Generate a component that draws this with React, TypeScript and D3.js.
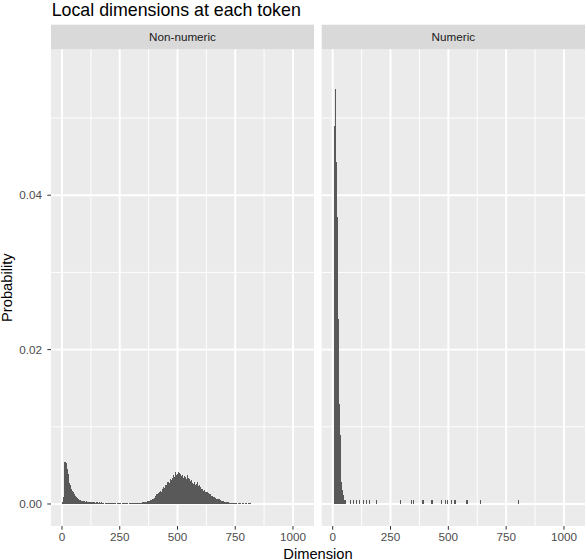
import { useEffect, useRef } from "react";
import * as d3 from "d3";

// histogram bin width (dimension units)
const binWidth = 4.33;

const panels = ["Non-numeric", "Numeric"];
const xTicks = [0, 250, 500, 750, 1000];
const xMinor = [125, 375, 625, 875];
const yTicks = [0, 0.02, 0.04];
const yMinor = [0.01, 0.03, 0.05];

// density per bin, bins start at 0 and step by binWidth
const nonNumericDensity = [
  0.0002, 0.0009, 0.0054, 0.0055, 0.0053, 0.0045, 0.0039, 0.0027, 0.0024, 0.0019,
  0.0017, 0.0015, 0.0013, 0.0011, 0.0009, 0.0008, 0.00065, 0.0005, 0.0005, 0.00045,
  0.0004, 0.00035, 0.00035, 0.0003, 0.00035, 0.0003, 0.00022, 0.00022, 0.0002, 0.00022,
  0.0002, 0.00022, 0.0002, 0.0001, 0.0002, 0.0002, 0.0001, 0.0002, 0.0001, 0.0002,
  0.0001, 0.0001, 0, 0.0001, 0.0001, 0.0001, 0.0001, 0.0001, 0.0001, 0.0001,
  0.0001, 0.0001, 0.0001, 0.0001, 0, 0.0001, 0.0001, 0.0001, 0.0001, 0,
  0.0001, 0.0001, 0.0001, 0.0001, 0.0001, 0.0001, 0, 0.0001, 0.0001, 0.0001,
  0.0001, 0.0001, 0.0001, 0.0001, 0.0001, 0.0001, 0.00013, 0.00013, 0.00013, 0.00015,
  0.0002, 0.0002, 0.00025, 0.0003, 0.0003, 0.00035, 0.0004, 0.0004, 0.0005, 0.0005,
  0.0006, 0.00065, 0.0008, 0.001, 0.0013, 0.0013, 0.0014, 0.0016, 0.0017, 0.0016,
  0.0019, 0.0022, 0.0021, 0.0025, 0.0024, 0.0028, 0.0029, 0.0027, 0.0032, 0.0031,
  0.0034, 0.0037, 0.0035, 0.0041, 0.0038, 0.0039, 0.0041, 0.004, 0.0039, 0.0036,
  0.0037, 0.0034, 0.0036, 0.0035, 0.0033, 0.0037, 0.0034, 0.0032, 0.003, 0.0031,
  0.0027, 0.0026, 0.0029, 0.0025, 0.0026, 0.0028, 0.0023, 0.0024, 0.0022, 0.002,
  0.0019, 0.0017, 0.0018, 0.0016, 0.0015, 0.0015, 0.0014, 0.0013, 0.0013, 0.0011,
  0.001, 0.00095, 0.0009, 0.0008, 0.0007, 0.00065, 0.0006, 0.0006, 0.0005, 0.00045,
  0.0004, 0.00035, 0.0003, 0.0003, 0.00025, 0.0002, 0.0002, 0.00015, 0.00013, 0.00013,
  0.0001, 0.0001, 0.0001, 0.0001, 0.00008, 0, 0.0001, 0.00008, 0.00008, 0,
  0.0001, 0.00008, 0, 0.00008, 0.00008, 0, 0.00008, 0.00008, 0.00008, 0,
];

const numericDensity = [
  0, 0.0489, 0.0537, 0.0443, 0.0372, 0.024, 0.013, 0.009, 0.0029, 0.0018, 0.0012, 0.0005,
];

// isolated numeric tokens far out in the tail (dimension values)
const numericTailDims = [
  56, 74, 87, 100, 113, 134, 147, 160, 188, 292, 341, 348, 388, 394, 427, 431,
  470, 485, 495, 511, 524, 532, 576, 582, 640, 804,
];
const numericTailDensity = 0.0005;

type Bin = { x0: number; v: number };

const App = () => {
  const container = useRef<HTMLDivElement>(null);

  useEffect(() => {
    const el = container.current;
    if (!el) return;
    el.innerHTML = "";

    const width = 586, height = 560;
    const top = 49.3, bottom = 526;
    const panelX = [[51, 314], [321.7, 585]];
    const font = "'Liberation Sans', Arial, Helvetica, sans-serif";

    const svg = d3.select(el)
      .append("svg")
      .attr("width", width)
      .attr("height", height)
      .style("display", "block")
      .style("font-family", font);

    const y = d3.scaleLinear().domain([-0.00285, 0.0589]).range([bottom, top]);

    const nonNumericBins: Bin[] = nonNumericDensity.map((v, i) => ({ x0: i * binWidth, v }));
    const numericBins: Bin[] = numericDensity.map((v, i) => ({ x0: i * binWidth, v }))
      .concat(numericTailDims.map((d) => ({ x0: Math.floor(d / binWidth) * binWidth, v: numericTailDensity })));
    const binsByPanel = [nonNumericBins, numericBins];

    panels.forEach((name, i) => {
      const [x0, x1] = panelX[i];
      const x = d3.scaleLinear().domain([-47.6, 1091]).range([x0, x1]);
      const g = svg.append("g");

      g.append("rect")
        .attr("x", x0).attr("y", top)
        .attr("width", x1 - x0).attr("height", bottom - top)
        .attr("fill", "#EBEBEB");

      // strip
      g.append("rect")
        .attr("x", x0).attr("y", 24.7)
        .attr("width", x1 - x0).attr("height", top - 24.7)
        .attr("fill", "#D9D9D9");
      g.append("text")
        .attr("x", (x0 + x1) / 2).attr("y", 41)
        .attr("text-anchor", "middle")
        .style("font-size", "11.7px")
        .attr("fill", "#1A1A1A")
        .text(name);

      // grid
      g.selectAll(".xminor").data(xMinor).join("line")
        .attr("x1", (d) => x(d)).attr("x2", (d) => x(d))
        .attr("y1", top).attr("y2", bottom)
        .attr("stroke", "#fff").attr("stroke-width", 0.95);
      g.selectAll(".yminor").data(yMinor).join("line")
        .attr("x1", x0).attr("x2", x1)
        .attr("y1", (d) => y(d)).attr("y2", (d) => y(d))
        .attr("stroke", "#fff").attr("stroke-width", 0.95);
      g.selectAll(".xmajor").data(xTicks).join("line")
        .attr("x1", (d) => x(d)).attr("x2", (d) => x(d))
        .attr("y1", top).attr("y2", bottom)
        .attr("stroke", "#fff").attr("stroke-width", 1.9);
      g.selectAll(".ymajor").data(yTicks).join("line")
        .attr("x1", x0).attr("x2", x1)
        .attr("y1", (d) => y(d)).attr("y2", (d) => y(d))
        .attr("stroke", "#fff").attr("stroke-width", 1.9);

      // bars
      g.selectAll(".bar").data(binsByPanel[i].filter((d) => d.v > 0)).join("rect")
        .attr("x", (d) => x(d.x0))
        .attr("width", (d) => x(d.x0 + binWidth) - x(d.x0))
        .attr("y", (d) => y(d.v))
        .attr("height", (d) => y(0) - y(d.v))
        .attr("fill", "#595959")
        .attr("shape-rendering", "crispEdges");

      // x axis
      g.selectAll(".xtick").data(xTicks).join("line")
        .attr("x1", (d) => x(d)).attr("x2", (d) => x(d))
        .attr("y1", bottom).attr("y2", bottom + 3.7)
        .attr("stroke", "#333333").attr("stroke-width", 1);
      g.selectAll(".xlabel").data(xTicks).join("text")
        .attr("x", (d) => x(d)).attr("y", 541)
        .attr("text-anchor", "middle")
        .style("font-size", "11.7px")
        .attr("fill", "#4D4D4D")
        .text((d) => String(d));
    });

    // y axis on the first panel
    const yAxis = svg.append("g");
    yAxis.selectAll("line").data(yTicks).join("line")
      .attr("x1", panelX[0][0] - 3.7).attr("x2", panelX[0][0])
      .attr("y1", (d) => y(d)).attr("y2", (d) => y(d))
      .attr("stroke", "#333333").attr("stroke-width", 1);
    yAxis.selectAll("text").data(yTicks).join("text")
      .attr("x", 42).attr("y", (d) => y(d) + 4.2)
      .attr("text-anchor", "end")
      .style("font-size", "11.7px")
      .attr("fill", "#4D4D4D")
      .text((d) => d3.format(".2f")(d));

    svg.append("text")
      .attr("x", 51.7).attr("y", 16)
      .style("font-size", "17.8px")
      .attr("fill", "#000")
      .text("Local dimensions at each token");

    svg.append("text")
      .attr("x", (panelX[0][0] + panelX[1][1]) / 2).attr("y", 558.5)
      .attr("text-anchor", "middle")
      .style("font-size", "14.7px")
      .attr("fill", "#000")
      .text("Dimension");

    svg.append("text")
      .attr("transform", `translate(12,${(top + bottom) / 2}) rotate(-90)`)
      .attr("text-anchor", "middle")
      .style("font-size", "14.7px")
      .attr("fill", "#000")
      .text("Probability");
  }, []);

  return <div ref={container} style={{ position: "absolute", left: 0, top: 0 }}></div>;
};

export default App;
